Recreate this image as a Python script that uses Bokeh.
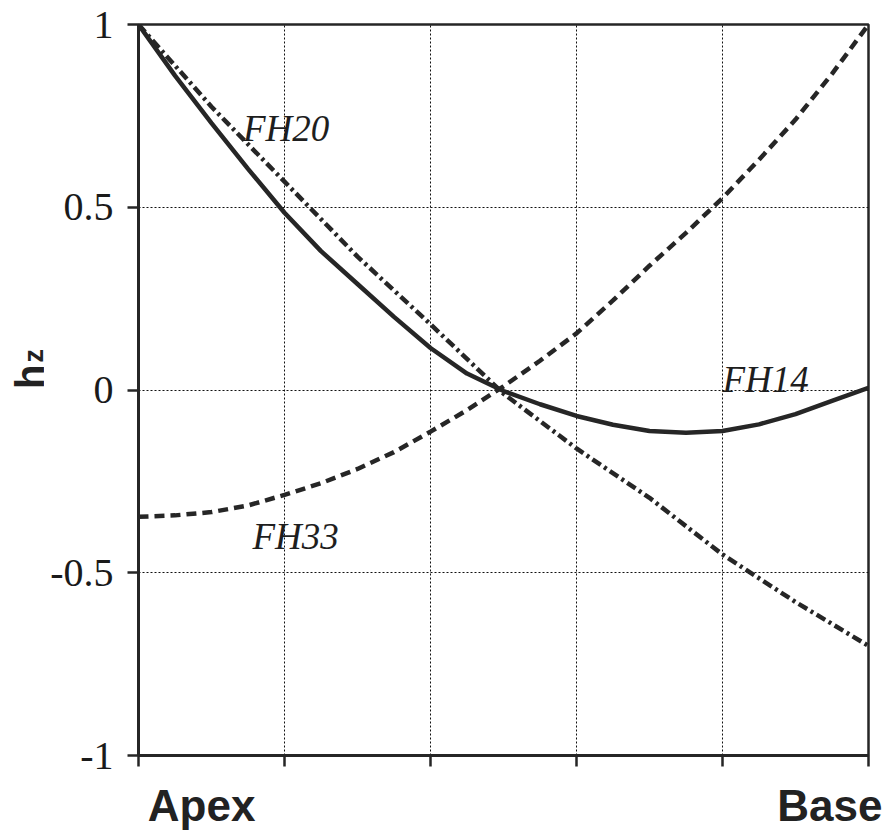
import math
from bokeh.plotting import figure
from bokeh.layouts import row
from bokeh.models import FixedTicker, Label, Range1d, LinearAxis
from bokeh.core.properties import value
from bokeh.embed import file_html
from bokeh.resources import INLINE

# ---- data ----
x_fine = [0.0, 0.05, 0.1, 0.15, 0.2, 0.25, 0.3, 0.35, 0.4, 0.45, 0.5,
          0.55, 0.6, 0.65, 0.7, 0.75, 0.8, 0.85, 0.9, 0.95, 1.0]
fh14 = [1.0, 0.86, 0.73, 0.605, 0.485, 0.38, 0.29, 0.2, 0.115, 0.045, -0.003,
        -0.039, -0.071, -0.095, -0.112, -0.117, -0.112, -0.094, -0.066, -0.03, 0.006]
fh33 = [-0.347, -0.343, -0.334, -0.316, -0.287, -0.255, -0.216, -0.17, -0.114, -0.055, 0.01,
        0.08, 0.155, 0.245, 0.34, 0.43, 0.525, 0.63, 0.74, 0.865, 1.0]
x_coarse = [0.0, 0.1, 0.2, 0.3, 0.4, 0.5, 0.6, 0.7, 0.8, 0.9, 1.0]
fh20 = [1.0, 0.775, 0.57, 0.365, 0.18, -0.01, -0.16, -0.295, -0.45, -0.58, -0.70]

y_ticks = [-1, -0.5, 0, 0.5, 1]
y_tick_labels = ["-1", "-0.5", "0", "0.5", "1"]
x_ticks = [0.0, 0.2, 0.4, 0.6, 0.8, 1.0]
x_end_labels = ["Apex", "Base"]
x_end_label_pos = [0.0865, 0.947]

series_names = ["FH14", "FH20", "FH33"]
name_x = [0.80, 0.143, 0.156]
name_y = [0.03, 0.715, -0.40]

# rotated y title "h" with a small "z"
y_title_parts = ["h", "z"]
y_title_x = [29, 33.5]
y_title_y = [0.036, 0.094]
y_title_sizes = ["40px", "27px"]

INK = "#262626"
TOP, BOTTOM = 24, 75
LEFT_W = 44

# ---- main plot ----
p = figure(width=884 - LEFT_W, height=832, output_backend="svg", toolbar_location=None,
           x_range=Range1d(0, 1), y_range=Range1d(-1, 1),
           min_border_left=138 - LEFT_W, min_border_right=16,
           min_border_top=TOP, min_border_bottom=BOTTOM)
p.background_fill_color = "white"
p.border_fill_color = "white"
p.outline_line_color = INK
p.outline_line_width = 2.5

p.xaxis.ticker = FixedTicker(ticks=x_ticks)
p.yaxis.ticker = FixedTicker(ticks=y_ticks)
p.yaxis.major_label_overrides = {t: s for t, s in zip(y_ticks, y_tick_labels)}
p.xaxis.major_label_overrides = {t: "" for t in x_ticks}
p.xaxis.major_label_text_font_size = "0px"
p.xaxis.major_label_standoff = 0
for ax in (p.xaxis, p.yaxis):
    ax.axis_line_color = INK
    ax.axis_line_width = 3
    ax.major_tick_line_color = INK
    ax.major_tick_line_width = 2.5
    ax.major_tick_out = 11
    ax.major_tick_in = 0
    ax.minor_tick_line_color = None
p.yaxis.major_label_text_font = "Liberation Serif"
p.yaxis.major_label_text_font_size = "40px"
p.yaxis.major_label_text_color = "#1a1a1a"
p.yaxis.major_label_standoff = 14

# Apex / Base labels as a second, line-less bottom axis
end_axis = LinearAxis(ticker=FixedTicker(ticks=x_end_label_pos),
                      major_label_overrides={t: s for t, s in zip(x_end_label_pos, x_end_labels)},
                      axis_line_color=None, major_tick_line_color=None,
                      minor_tick_line_color=None, major_tick_out=0, major_tick_in=0,
                      major_label_standoff=14,
                      major_label_text_font="Liberation Sans",
                      major_label_text_font_style="bold",
                      major_label_text_font_size="44px",
                      major_label_text_color="#222222")
p.add_layout(end_axis, "below")

for g in (p.xgrid, p.ygrid):
    g.grid_line_color = "#111111"
    g.grid_line_width = 1
    g.grid_line_dash = "2 2"

p.line(x_fine, fh14, line_color=INK, line_width=4.5)
p.line(x_coarse, fh20, line_color=INK, line_width=4.5, line_dash="10 4 3 4")
p.line(x_fine, fh33, line_color=INK, line_width=4.5, line_dash="10 6")

for nm, nx, ny in zip(series_names, name_x, name_y):
    p.add_layout(Label(x=nx, y=ny, text=nm, text_font="Liberation Serif",
                       text_font_style="italic", text_font_size="37px",
                       text_color="#1e1e1e", text_align="left",
                       text_baseline="middle"))

# ---- narrow strip on the left for the rotated h_z title ----
q = figure(width=LEFT_W, height=832, output_backend="svg", toolbar_location=None,
           x_range=Range1d(0, LEFT_W), y_range=p.y_range,
           x_axis_location=None, y_axis_location=None,
           min_border_left=0, min_border_right=0,
           min_border_top=TOP, min_border_bottom=BOTTOM)
q.outline_line_color = None
q.xgrid.visible = False
q.ygrid.visible = False
q.background_fill_color = "white"
q.border_fill_color = "white"
for part, tx, ty, ts in zip(y_title_parts, y_title_x, y_title_y, y_title_sizes):
    q.text(x=[tx], y=[ty], text=[part], angle=math.pi / 2,
           text_font=value("Liberation Sans"), text_font_style="bold",
           text_font_size=ts, text_color="#222222",
           text_align="center", text_baseline="middle")

layout = row(q, p, spacing=0)
open("out.html", "w").write(file_html(layout, INLINE))
